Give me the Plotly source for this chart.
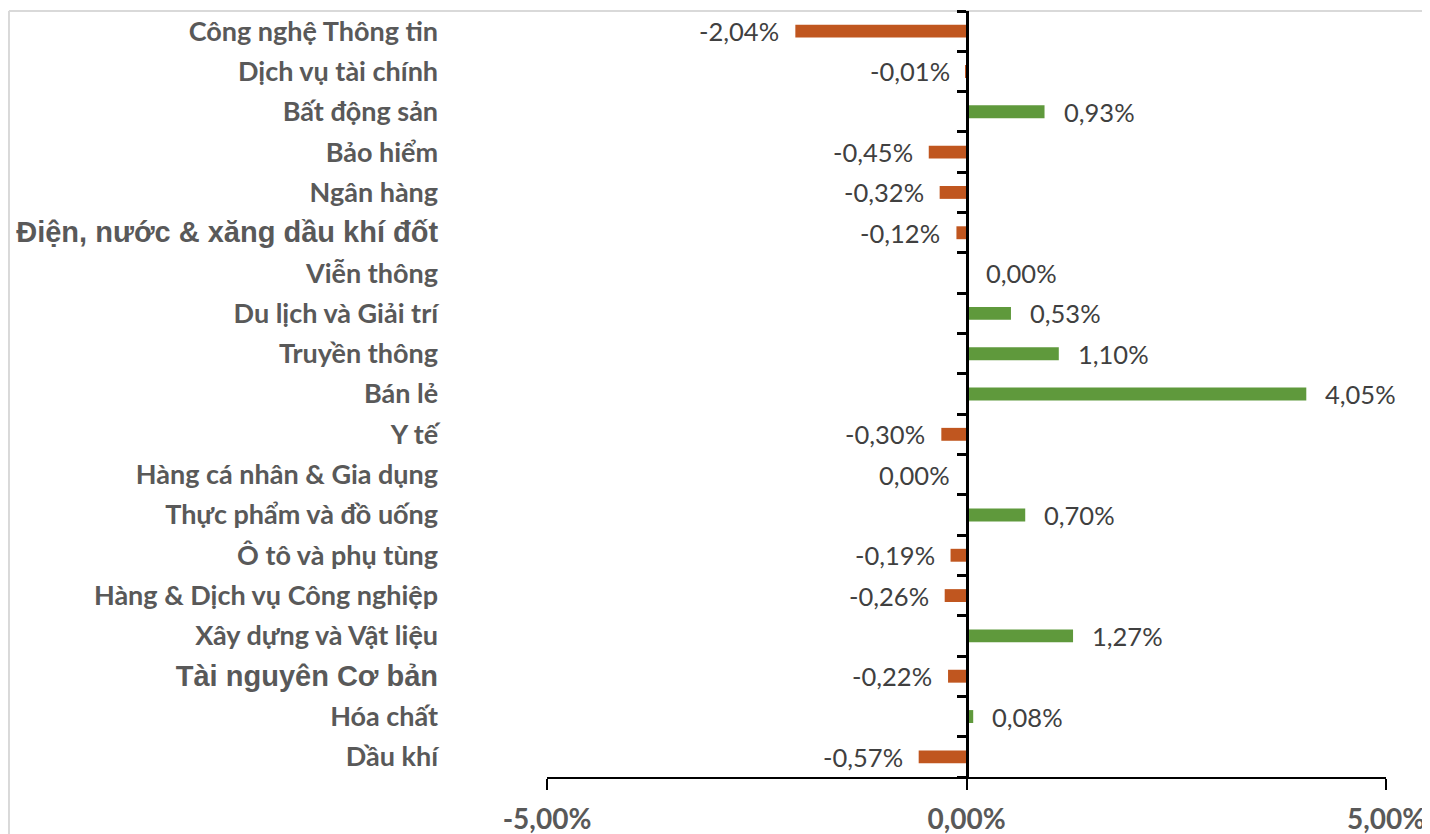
import plotly.graph_objects as go

# ---- data ----
categories = [
    "Công nghệ Thông tin", "Dịch vụ tài chính", "Bất động sản", "Bảo hiểm",
    "Ngân hàng", "Điện, nước & xăng dầu khí đốt", "Viễn thông",
    "Du lịch và Giải trí", "Truyền thông", "Bán lẻ", "Y tế",
    "Hàng cá nhân & Gia dụng", "Thực phẩm và đồ uống", "Ô tô và phụ tùng",
    "Hàng & Dịch vụ Công nghiệp", "Xây dựng và Vật liệu", "Tài nguyên Cơ bản",
    "Hóa chất", "Dầu khí",
]
values = [-2.04, -0.01, 0.93, -0.45, -0.32, -0.12, 0.001, 0.53, 1.10, 4.05,
          -0.30, -0.001, 0.70, -0.19, -0.26, 1.27, -0.22, 0.08, -0.57]
x_tickvals = [-5, 0, 5]
x_ticktext = ["-5,00%", "0,00%", "5,00%"]
special_labels = ["Điện, nước & xăng dầu khí đốt", "Tài nguyên Cơ bản"]

POS = "#5f993c"
NEG = "#c0561f"


def fmt(v):
    s = f"{abs(v):.2f}".replace(".", ",") + "%"
    return ("-" + s) if round(v, 2) < 0 else s


ticktext = []
for c in categories:
    if c in special_labels:
        ticktext.append(f"<span style=\"font-family:'Liberation Sans';font-size:29px\">{c}</span>")
    else:
        ticktext.append(c)

fig = go.Figure()
fig.add_trace(go.Bar(
    x=values, y=categories, orientation="h",
    marker=dict(color=[POS if v >= 0 else NEG for v in values], line=dict(width=0)),
    width=0.32, hoverinfo="x+y",
))

for c, v in zip(categories, values):
    fig.add_annotation(
        x=v, y=c, xref="x", yref="y", text=fmt(v), showarrow=False,
        xanchor="left" if v >= 0 else "right", xshift=17 if v >= 0 else -14,
        font=dict(family="Lato", size=25.5, color="#404040"),
    )

# light chart border (left and top edges visible)
fig.add_shape(type="line", xref="paper", yref="paper",
              x0=-0.6413, x1=-0.6413, y0=1.0, y1=-0.2,
              line=dict(color="#d9d9d9", width=2), layer="below")
fig.add_shape(type="line", xref="paper", yref="paper",
              x0=-0.6413, x1=1.1, y0=1.0, y1=1.0,
              line=dict(color="#d9d9d9", width=2), layer="below")

fig.update_layout(
    width=1430, height=834,
    margin=dict(l=539, r=52, t=3, b=65),
    plot_bgcolor="white", paper_bgcolor="white",
    showlegend=False, bargap=0.68,
    xaxis=dict(
        range=[-5, 5], tickvals=x_tickvals, ticktext=x_ticktext,
        showgrid=False, zeroline=False, showline=True,
        linecolor="black", linewidth=2,
        ticks="outside", ticklen=11, tickwidth=2, tickcolor="black",
        tickfont=dict(family="Lato", size=28, color="#595959", weight="bold"),
        ticklabelstandoff=5,
    ),
    xaxis2=dict(
        range=[-5, 5], tickvals=x_tickvals, overlaying="x", anchor="y",
        side="bottom", showticklabels=False, showgrid=False, zeroline=False,
        showline=False, ticks="inside", ticklen=7, tickwidth=2, tickcolor="black",
    ),
    yaxis=dict(
        autorange="reversed", tickvals=categories, ticktext=ticktext,
        anchor="free", position=0.5,
        showgrid=False, zeroline=False, showline=True,
        linecolor="black", linewidth=3,
        ticks="outside", tickson="boundaries", ticklen=9, tickwidth=3,
        tickcolor="black",
        tickfont=dict(family="Lato", size=27, color="#595959", weight="bold"),
        ticklabelstandoff=522, automargin=False,
    ),
)

fig.write_html("out.html")
